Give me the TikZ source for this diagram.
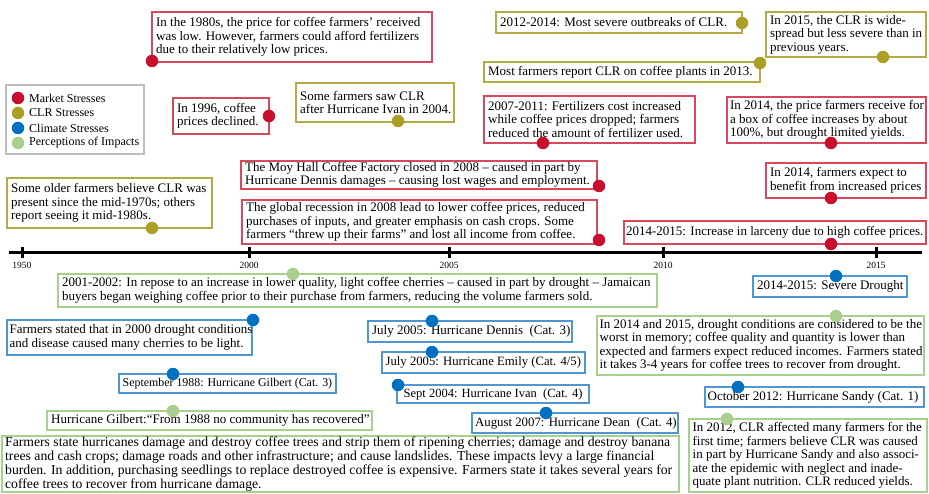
\documentclass[tikz,border=0pt]{standalone}
\usepackage{fontspec}
\setmainfont{Liberation Serif}
\definecolor{mkt}{RGB}{200,16,46}
\definecolor{mktline}{RGB}{216,72,92}
\definecolor{clr}{RGB}{170,160,40}
\definecolor{clrline}{RGB}{180,170,70}
\definecolor{clim}{RGB}{0,112,192}
\definecolor{climline}{RGB}{80,150,210}
\definecolor{perc}{RGB}{169,206,142}
\definecolor{percline}{RGB}{168,208,141}
\definecolor{leggray}{RGB}{190,190,190}
\newcommand\tlbox[8][xshift=4.5]{%
  \node[box, draw=#3, minimum width={#6-#4}, minimum height={#7-#5}] (#2) at ({(#4+#6)/2},{(#5+#7)/2}) {};
  \node[txt, anchor=west, #1] (#2-t) at (#2.west) {#8};
}
\newcommand\tldot[4]{\node[dot, fill=#2] (#1) at (#3,#4) {};}
\begin{document}
\begin{tikzpicture}[x=1pt,y=-1pt,
  box/.style={rectangle, line width=1.1pt, inner sep=0pt, fill=white},
  txt/.style={inner sep=0pt, align=left, font=\fontsize{13}{13.5}\selectfont},
  legtxt/.style={inner sep=0pt, align=left, font=\fontsize{12}{13}\selectfont},
  dot/.style={circle, inner sep=0pt, minimum size=12.5pt, draw=none},
  tickmark/.style={rectangle, fill=black, inner sep=0pt, minimum width=3pt, minimum height=11pt},
  ticklab/.style={inner sep=0pt, font=\fontsize{9.5}{10}\selectfont}
]
\useasboundingbox (0,0) rectangle (929,494);

% ---------- timeline ----------
\coordinate (tlstart) at (9,253);
\coordinate (tlend) at (922,253);
\draw[line width=3pt] (tlstart) -- (tlend);
\foreach \x/\yr in {22/1950, 249/2000, 449/2005, 663/2010, 876/2015}{
  \node[tickmark] (tick\yr) at (\x,253) {};
  \node[ticklab] (lab\yr) at (\x,265.5) {\yr};
}

% ---------- legend ----------
\node[box, draw=leggray, minimum width=138, minimum height=69] (legend) at (75,119.5) {};
\tldot{lg1}{mkt}{18}{98}
\tldot{lg2}{clr}{18}{113}
\tldot{lg3}{clim}{18}{128}
\tldot{lg4}{perc}{18}{143}
\node[legtxt, anchor=west] (lgt1) at (29,98) {Market Stresses};
\node[legtxt, anchor=west] (lgt2) at (29,113) {CLR Stresses};
\node[legtxt, anchor=west] (lgt3) at (29,128) {Climate Stresses};
\node[legtxt, anchor=west] (lgt4) at (29,143) {Perceptions of Impacts};

% ---------- above the timeline ----------
\tlbox{b1980}{mktline}{152}{12}{432}{62}{In the 1980s, the price for coffee farmers’ received\\was low. However, farmers could afford fertilizers\\due to their relatively low prices.}
\tlbox{b1996}{mktline}{173}{98}{269}{134}{In 1996, coffee\\prices declined.}
\tlbox{bivanclr}{clrline}{296}{83}{454}{122}{Some farmers saw CLR\\after Hurricane Ivan in 2004.}
\tlbox{b1214}{clrline}{496}{12}{742}{33}{2012-2014: Most severe outbreaks of CLR.}
\tlbox{b2013}{clrline}{484}{62}{760}{82}{Most farmers report CLR on coffee plants in 2013.}
\tlbox{b2015}{clrline}{766}{12}{926}{57}{In 2015, the CLR is wide-\\spread but less severe than in\\previous years.}
\tlbox{b0711}{mktline}{484}{96}{695}{143}{2007-2011: Fertilizers cost increased\\while coffee prices dropped; farmers\\reduced the amount of fertilizer used.}
\tlbox[xshift=3.5]{bprice}{mktline}{727}{97}{926}{143}{In 2014, the price farmers receive for\\a box of coffee increases by about\\100\%, but drought limited yields.}
\tlbox{bolder}{clrline}{7}{178}{212}{228}{Some older farmers believe CLR was\\present since the mid-1970s; others\\report seeing it mid-1980s.}
\tlbox{bmoy}{mktline}{241}{161}{597}{189}{The Moy Hall Coffee Factory closed in 2008 – caused in part by\\Hurricane Dennis damages – causing lost wages and employment.}
\tlbox{brec}{mktline}{242}{200}{597}{244}{The global recession in 2008 lead to lower coffee prices, reduced\\purchases of inputs, and greater emphasis on cash crops. Some\\farmers “threw up their farms” and lost all income from coffee.}
\tlbox{bexpect}{mktline}{766}{163}{926}{198}{In 2014, farmers expect to\\benefit from increased prices}
\tlbox[xshift=2.5]{blarceny}{mktline}{624}{221}{926}{244}{2014-2015: Increase in larceny due to high coffee prices.}

% ---------- below the timeline ----------
\tlbox{b0102}{percline}{58}{274}{657}{307}{2001-2002: In repose to an increase in lower quality, light coffee cherries – caused in part by drought – Jamaican\\buyers began weighing coffee prior to their purchase from farmers, reducing the volume farmers sold.}
\tlbox{bdrought}{climline}{753}{276}{907}{297}{2014-2015: Severe Drought}
\tlbox[xshift=3]{b2000}{climline}{7}{320}{252}{355}{Farmers stated that in 2000 drought conditions\\and disease caused many cherries to be light.}
\tlbox{bdennis}{climline}{368}{321}{572}{342}{July 2005: Hurricane Dennis\ \ (Cat. 3)}
\tlbox[xshift=4,font=\fontsize{12.7}{13.5}\selectfont]{bemily}{climline}{382}{352}{585}{373}{July 2005: Hurricane Emily (Cat. 4/5)}
\tlbox[xshift=3]{b1415}{percline}{597}{316}{924}{375}{In 2014 and 2015, drought conditions are considered to be the\\worst in memory; coffee quality and quantity is lower than\\expected and farmers expect reduced incomes. Farmers stated\\it takes 3-4 years for coffee trees to recover from drought.}
\tlbox[xshift=4,font=\fontsize{11.9}{13}\selectfont]{bgilbert}{climline}{119}{374}{336}{393}{September 1988: Hurricane Gilbert (Cat. 3)}
\tlbox[xshift=7,font=\fontsize{12.5}{13.5}\selectfont]{bivan}{climline}{397}{385}{589}{403}{Sept 2004: Hurricane Ivan\ \ (Cat. 4)}
\tlbox[xshift=3]{bsandy}{climline}{705}{387}{924}{407}{October 2012: Hurricane Sandy (Cat. 1)}
\tlbox{bgilq}{percline}{47}{411}{372}{430}{Hurricane Gilbert:“From 1988 no community has recovered”}
\tlbox[xshift=3.5,font=\fontsize{12.8}{13.5}\selectfont]{bdean}{climline}{472}{413}{678}{433}{August 2007: Hurricane Dean\ \ (Cat. 4)}
\tlbox[xshift=3.5,font=\fontsize{13.7}{14}\selectfont]{bhurr}{percline}{2}{436}{679}{492}{Farmers state hurricanes damage and destroy coffee trees and strip them of ripening cherries; damage and destroy banana\\trees and cash crops; damage roads and other infrastructure; and cause landslides. These impacts levy a large financial\\burden. In addition, purchasing seedlings to replace destroyed coffee is expensive. Farmers state it takes several years for\\coffee trees to recover from hurricane damage.}
\tlbox[xshift=4]{b2012}{percline}{689}{419}{927}{492}{In 2012, CLR affected many farmers for the\\first time; farmers believe CLR was caused\\in part by Hurricane Sandy and also associ-\\ate the epidemic with neglect and inade-\\quate plant nutrition. CLR reduced yields.}

% ---------- dots ----------
\tldot{d1980}{mkt}{152}{61}
\tldot{d1996}{mkt}{269}{116}
\tldot{divanclr}{clr}{398}{121}
\tldot{d1214}{clr}{742}{23}
\tldot{d2013}{clr}{760}{63}
\tldot{d2015}{clr}{883}{57}
\tldot{d0711}{mkt}{543}{143}
\tldot{dprice}{mkt}{831}{143}
\tldot{dolder}{clr}{152}{228}
\tldot{dmoy}{mkt}{599}{186}
\tldot{drec}{mkt}{599}{240}
\tldot{dexpect}{mkt}{831}{198}
\tldot{dlarceny}{mkt}{831}{244}
\tldot{d0102}{perc}{293}{274}
\tldot{ddrought}{clim}{836}{276}
\tldot{d2000}{clim}{253}{320}
\tldot{ddennis}{clim}{432}{321}
\tldot{demily}{clim}{432}{352}
\tldot{d1415}{perc}{836}{316}
\tldot{dgilbert}{clim}{173}{374}
\tldot{divan}{clim}{398}{385}
\tldot{dsandy}{clim}{738}{387}
\tldot{dgilq}{perc}{173}{411}
\tldot{ddean}{clim}{546}{413}
\tldot{d2012}{perc}{727}{419}
\end{tikzpicture}
\end{document}
